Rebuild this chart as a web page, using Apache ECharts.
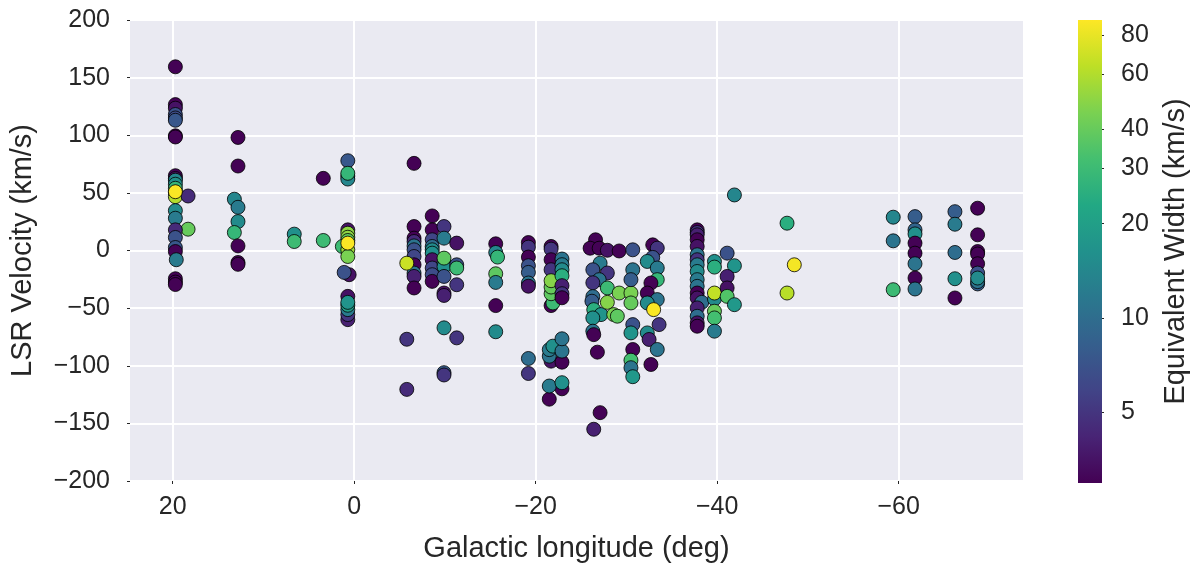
<!DOCTYPE html>
<html>
<head>
<meta charset="utf-8">
<title>LSR velocity vs Galactic longitude</title>
<script src="https://cdn.jsdelivr.net/npm/echarts@6/dist/echarts.min.js"></script>
<style>
  html, body { margin: 0; padding: 0; background: #fff; }
  #chart { width: 1198px; height: 570px; }
</style>
</head>
<body>
<div id="chart"></div>
<script>
// Absorption components: Galactic longitude (deg), LSR velocity (km/s), equivalent width (km/s)
const longitude = [
  19.7, 19.7, 19.7, 19.7, 19.7, 19.7, 19.7, 19.7, 19.7, 19.7, 19.7, 19.7, 19.7, 19.7, 19.7, 18.3, 19.7, 19.7, 18.3, 19.7, 19.7, 19.7, 19.7, 19.6, 19.7, 19.7, 19.7, 19.7,
  12.8, 12.8, 13.2, 12.8, 12.8, 13.2, 12.8, 12.8, 12.8,
  6.6, 6.6,
  3.4, 3.4,
  0.7, 0.7, 0.7, 0.7, 0.7, 0.7, 0.7, 0.7, 1.3, 0.7, 0.7, 0.55, 1.1, 0.7, 0.7, 0.7, 0.7, 0.7, 0.7, 0.7,
  -6.6, -6.6, -6.6, -6.6, -6.6, -6.6, -6.6, -6.6, -6.6, -6.6, -6.6, -5.8, -5.8, -5.8,
  -8.6, -8.6, -8.6, -8.6, -8.6, -8.6, -8.6, -8.6, -8.6, -8.6,
  -9.9, -9.9, -9.9, -9.9, -9.9, -9.9, -9.9, -9.9, -9.9, -9.9, -9.9,
  -11.3, -11.3, -11.3, -11.3, -11.3,
  -15.6, -15.6, -15.8, -15.6, -15.6, -15.6, -15.6,
  -19.2, -19.2, -19.2, -19.2, -19.2, -19.2, -19.2, -19.2, -19.2,
  -21.7, -21.7, -21.7, -21.7, -21.7, -21.9, -21.7, -21.7, -21.7,
  -22.9, -22.9, -22.9, -22.9, -22.9, -22.9, -22.9,
  -21.7, -21.5, -21.5, -21.9, -22.9, -22.9, -22.9, -21.5, -22.9, -21.5, -22.9,
  -26.6, -26.0, -27.0, -27.9, -29.2, -30.7, -27.1, -26.3, -27.9, -27.0, -26.3, -26.3, -26.2, -26.4, -27.2, -26.3, -26.3, -26.4, -26.8,
  -27.9, -29.2, -30.5, -27.9, -30.5, -28.6, -29.0,
  -30.7, -30.5, -30.7, -30.5, -30.7, -30.5, -30.5, -30.7, -27.1, -26.4,
  -32.9, -33.4, -32.9, -32.3, -33.4, -33.4, -32.7, -32.3, -33.4, -32.3, -33.6, -32.3, -32.5, -33.4, -32.7, -33.0,
  -37.8, -37.8, -37.8, -37.8, -37.8, -37.8, -37.8, -37.8, -37.8, -37.8, -37.8, -37.8, -37.8, -38.3, -37.8, -37.8, -37.8, -37.8,
  -39.7, -39.7, -39.7, -39.7, -39.7, -39.7, -39.7,
  -41.9, -41.1, -41.9, -41.1, -41.1, -41.1, -41.9,
  -47.7, -48.5, -47.7,
  -59.4, -59.4, -59.4,
  -61.8, -61.8, -61.8, -61.8, -61.8, -61.8, -61.8, -61.8,
  -66.2, -66.2, -66.2, -66.2, -66.2,
  -68.7, -68.7, -68.7, -68.7, -68.7, -68.7, -68.7, -68.7, -68.7
];
const velocity = [
  159.4, 126.6, 123.5, 118, 115, 113, 99.5, 98.5, 64.9, 62.5, 61, 57.5, 54, 50.5, 46.7, 47.3, 34.6, 28, 18.5, 17.9, 11.3, 2.6, -0.9, -8, -24.5, -27.4, -29.5, 51,
  98.1, 73.3, 44.5, 37.5, 25.1, 15.6, 4, -10.4, -12,
  14.2, 7.8,
  62.6, 8.7,
  77.9, 64.6, 62, 67, 17.9, 15, 11.5, 8.7, 3.5, 0.6, -5.2, -21, -19, -39.8, -60, -55.6, -51.3, -47.5, -45, 6.4,
  75.6, 20.8, 10.7, 7.8, 4, 0.6, -5.2, -12.4, -19.6, -22.5, -32.5, -11, -77, -120.5,
  30, 17.9, 9.3, 3.5, 0.6, -2.3, -8, -15.2, -21, -26.8,
  20.8, 10.7, -10.9, -14, -22.5, -6.6, -36.9, -39, -67.1, -106, -108,
  6.4, -12.4, -15.2, -29.7, -75.8,
  5.8, -1.7, -5.7, -20.2, -27.7, -47.8, -70.5,
  6.9, 2.9, -5.7, -13.2, -19, -28.2, -31, -93.7, -106.7,
  3.5, 1.2, -8, -16.7, -47.8, -45.5, -37.5, -31.7, -26.2,
  -7.4, -12.3, -16.7, -21.9, -30.5, -37.5, -41,
  -96, -91.7, -86, -83, -96.9, -87.3, -76.6, -129, -120, -117.6, -114.7,
  9.3, 2, 2, 0.2, -0.4, 0.6, -11, -16.7, -19.5, -25.3, -28, -40, -44, -51.3, -55.6, -58.5, -70, -73, -88.2,
  -32.5, -36.9, -36.9, -45, -45.5, -55.6, -57,
  -16.7, -25.3, -64.3, -71.5, -85.9, -95.2, -101.7, -109.5, -140.7, -155.1,
  4.9, 2, -6, -9.5, -15.2, -25.3, -28.2, -36.9, -42.6, -45.5, -64.3, -71.5, -77.2, -85.9, -98.9, -51.3,
  17.9, 15.6, 13.6, 9.3, 3.5, -3.7, -8, -12.4, -18.2, -25.3, -31.1, -36.9, -41.2, -45, -49.8, -57.1, -62.8, -65.7,
  -9.5, -14.4, -42, -36.9, -52.7, -58.5, -70,
  48.2, -2.3, -13.2, -22.5, -32.5, -39.8, -47,
  23.7, -12.4, -36.9,
  28.9, 8.4, -34,
  29.4, 17.9, 14.4, 6.4, -2.3, -11.5, -23.9, -33.4,
  33.7, 22.8, -1.7, -24.5, -41.2,
  36.7, 13.6, -0.9, -3, -11.5, -19.6, -29, -27, -23.9
];
const eqWidth = [
  3, 3, 3.5, 7, 6.5, 7.5, 3, 3, 3, 3.5, 14, 16, 28, 40, 60, 4.5, 15, 12, 40, 4.5, 7, 7.5, 3, 12, 3, 3, 3, 88,
  3, 3, 14, 12, 15, 28, 3, 3, 3,
  16, 30,
  3, 30,
  7.5, 16, 14, 28, 3.5, 50, 50, 38, 30, 55, 45, 3.5, 7, 3.5, 4, 5, 12, 20, 17, 88,
  3, 3, 3, 4.5, 11, 7, 6, 3, 11, 4, 3, 68, 5, 4.5,
  3, 3, 6, 10, 15, 16, 3.5, 6, 6.5, 3,
  5, 12, 15, 16, 7, 38, 3.5, 4, 15, 8, 5,
  3.5, 7, 30, 5, 5,
  3, 14, 28, 38, 12, 3, 15,
  3, 5, 3, 7, 8, 11, 3.5, 10, 5,
  3, 5, 3, 5, 3, 30, 38, 40, 48,
  11, 12, 15, 25, 4, 5, 3,
  3.5, 11, 12, 16, 3, 11, 11, 3, 3, 12, 16,
  3, 3, 3, 3.5, 3, 7, 12, 7, 5, 11, 5, 10, 8, 25, 17, 16, 11, 3, 3,
  30, 45, 45, 48, 40, 45, 38,
  11, 8, 7, 17, 3, 32, 11, 18, 3, 4,
  3, 5, 7, 15, 12, 28, 3, 3, 11, 15, 5, 15, 4, 11, 3, 88,
  3, 5, 4, 3, 3.5, 11, 5, 12, 15, 12, 11, 3, 3.5, 10, 4, 10, 3.5, 3,
  16, 25, 15, 65, 40, 32, 12,
  14, 7, 17, 4, 3.5, 35, 18,
  25, 85, 62,
  14, 11, 30,
  8, 9, 16, 3, 3, 11, 3, 11,
  8, 12, 10, 16, 3,
  3, 3, 3, 3, 3, 7, 8, 11, 15
];

// Axis tick values
const xTicks = [20, 0, -20, -40, -60];
const cbTicks = [5, 10, 20, 30, 40, 60, 80];

// Colour scale limits (equivalent width, log scale)
const ewMin = 2.97;
const ewMax = 89.4;

const viridis = ['#440154', '#482475', '#414487', '#355f8d', '#2a788e', '#21918c',
                 '#22a884', '#44bf70', '#7ad151', '#bddf26', '#fde725'];

const logMin = Math.log10(ewMin);
const logMax = Math.log10(ewMax);
const TEXT = '#262626';
const FONT = 'Liberation Sans';
const TICK_SIZE = 25;
const TITLE_SIZE = 29;

const points = longitude.map((l, i) => [l, velocity[i], Math.log10(eqWidth[i])]);
const fmtNum = v => (v < 0 ? '\u2212' + Math.abs(v) : String(v));

const chart = echarts.init(document.getElementById('chart'), null, { renderer: 'canvas' });

chart.setOption({
  backgroundColor: '#ffffff',
  animation: false,
  textStyle: { fontFamily: FONT, color: TEXT },
  grid: [
    { left: 130, right: 175, top: 20, bottom: 89, show: true, backgroundColor: '#EAEAF2', borderWidth: 0 },
    { left: 1078, width: 24, top: 20, bottom: 87, show: false }
  ],
  xAxis: [
    {
      type: 'value', gridIndex: 0, inverse: true, min: -73.7, max: 24.7,
      name: 'Galactic longitude (deg)', nameLocation: 'middle', nameGap: 53,
      nameTextStyle: { fontSize: TITLE_SIZE, color: TEXT, fontFamily: FONT },
      axisLine: { show: false, onZero: false },
      axisTick: { show: true, customValues: xTicks, length: 3, lineStyle: { color: TEXT, width: 1 } },
      axisLabel: { customValues: xTicks, formatter: fmtNum, fontSize: TICK_SIZE, color: TEXT, margin: 14, fontFamily: FONT },
      splitLine: { show: true, lineStyle: { color: '#ffffff', width: 2 } }
    },
    { type: 'value', gridIndex: 1, min: 0, max: 1, show: false }
  ],
  yAxis: [
    {
      type: 'value', gridIndex: 0, min: -200, max: 200, interval: 50,
      name: 'LSR Velocity (km/s)', nameLocation: 'middle', nameGap: 93, nameRotate: 90,
      nameTextStyle: { fontSize: TITLE_SIZE, color: TEXT, fontFamily: FONT },
      axisLine: { show: false, onZero: false },
      axisTick: { show: true, length: 3, lineStyle: { color: TEXT, width: 1 } },
      axisLabel: { formatter: fmtNum, fontSize: TICK_SIZE, color: TEXT, margin: 20, fontFamily: FONT },
      splitLine: { show: true, lineStyle: { color: '#ffffff', width: 2 } }
    },
    {
      type: 'value', gridIndex: 1, min: logMin, max: logMax, position: 'right',
      name: 'Equivalent Width (km/s)', nameLocation: 'middle', nameGap: 59, nameRotate: 90,
      nameTextStyle: { fontSize: TITLE_SIZE, color: TEXT, fontFamily: FONT },
      axisLine: { show: false, onZero: false },
      splitLine: { show: false },
      axisTick: { show: true, customValues: cbTicks.map(Math.log10), length: 2, lineStyle: { color: TEXT, width: 1 } },
      axisLabel: {
        customValues: cbTicks.map(Math.log10), margin: 19, fontSize: TICK_SIZE, color: TEXT, fontFamily: FONT,
        formatter: v => String(Math.round(Math.pow(10, v)))
      }
    }
  ],
  visualMap: {
    type: 'continuous', show: false, seriesIndex: 0, dimension: 2,
    min: logMin, max: logMax, inRange: { color: viridis }
  },
  series: [
    {
      type: 'scatter', xAxisIndex: 0, yAxisIndex: 0,
      data: points, symbol: 'circle', symbolSize: 14,
      itemStyle: { borderColor: '#000000', borderWidth: 0.8, opacity: 1 }
    },
    {
      // colour bar
      type: 'custom', xAxisIndex: 1, yAxisIndex: 1, silent: true,
      data: [[0, logMin]],
      renderItem: (params, api) => {
        const top = api.coord([0, logMax]);
        const bot = api.coord([1, logMin]);
        const stops = viridis.map((c, i) => ({ offset: 1 - i / (viridis.length - 1), color: c }))
                             .sort((a, b) => a.offset - b.offset);
        return {
          type: 'rect',
          shape: { x: top[0], y: top[1], width: bot[0] - top[0], height: bot[1] - top[1] },
          style: { fill: new echarts.graphic.LinearGradient(0, 0, 0, 1, stops) }
        };
      }
    }
  ]
});
</script>
</body>
</html>
